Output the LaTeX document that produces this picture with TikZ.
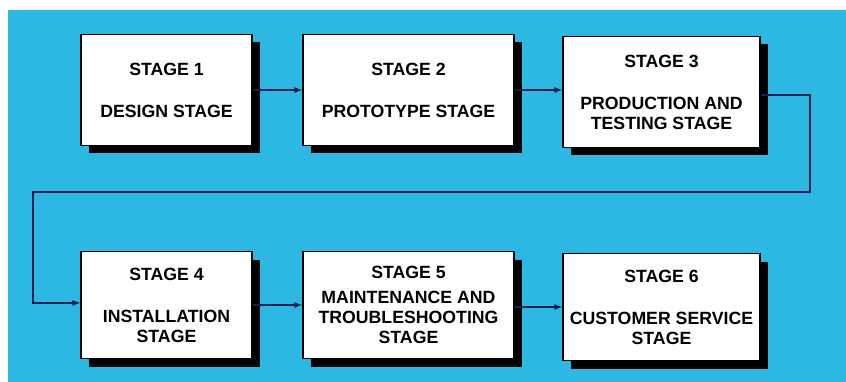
\documentclass[tikz,border=0pt]{standalone}
\usepackage{fontspec}
\setmainfont{Liberation Sans}
\usetikzlibrary{shadows,arrows.meta}
\definecolor{bgblue}{RGB}{45,183,227}
\definecolor{linenavy}{RGB}{20,30,80}
\begin{document}
\begin{tikzpicture}[x=1pt,y=-1pt,
  stagebox/.style={draw=black,line width=1.2pt,fill=white,inner sep=0pt,align=center,
    font=\bfseries\fontsize{17.7}{20}\selectfont,
    drop shadow={shadow xshift=8pt,shadow yshift=-8pt,fill=black,opacity=1}},
  flow/.style={draw=linenavy,line width=1.3pt,-{Latex[length=8pt,width=6pt]}}]
\useasboundingbox (0,0) rectangle (846,382);
\fill[bgblue] (8,10) rectangle (846,382);
\node[stagebox,minimum width=171pt,minimum height=111pt] (b1) at (166.5,90) {STAGE 1\\[22pt]DESIGN STAGE};
\node[stagebox,minimum width=211pt,minimum height=111pt] (b2) at (408.5,90) {STAGE 2\\[22pt]PROTOTYPE STAGE};
\node[stagebox,minimum width=197pt,minimum height=111pt] (b3) at (661.5,92) {STAGE 3\\[22pt]PRODUCTION AND\\TESTING STAGE};
\node[stagebox,minimum width=171pt,minimum height=107pt] (b4) at (166.5,305) {STAGE 4\\[22pt]INSTALLATION\\STAGE};
\node[stagebox,minimum width=211pt,minimum height=107pt] (b5) at (408.5,305) {STAGE 5\\[5pt]MAINTENANCE AND\\TROUBLESHOOTING\\STAGE};
\node[stagebox,minimum width=197pt,minimum height=107pt] (b6) at (661.5,307) {STAGE 6\\[22pt]CUSTOMER SERVICE\\STAGE};
\coordinate (c1) at (810,95);
\coordinate (c2) at (810,192);
\coordinate (c3) at (33,192);
\coordinate (c4) at (33,303);
\draw[flow] (b1.east) -- (b2.west);
\draw[flow] (b2.east) -- (b3.west |- b2.east);
\draw[flow] (b3.east |- c1) -- (c1) -- (c2) -- (c3) -- (c4) -- (b4.west |- c4);
\draw[flow] (b4.east) -- (b5.west);
\draw[flow] (b5.east |- 0,307) -- (b6.west);
\end{tikzpicture}
\end{document}
